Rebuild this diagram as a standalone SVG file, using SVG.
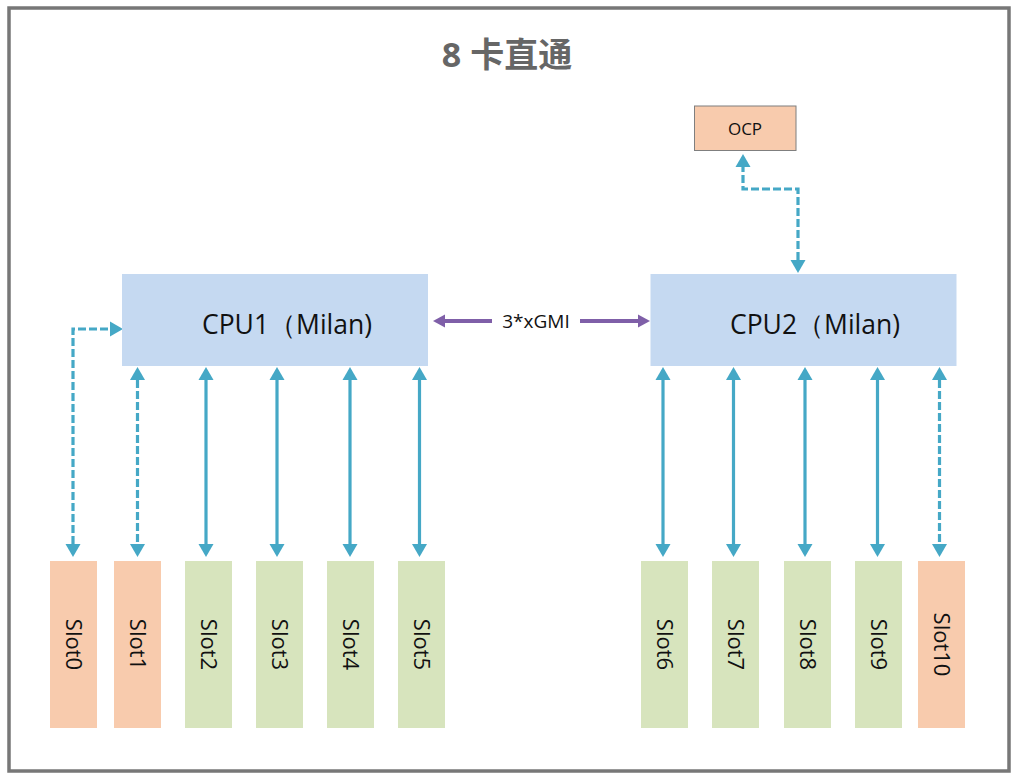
<svg xmlns="http://www.w3.org/2000/svg" width="1014" height="773" viewBox="0 0 1014 773">
<defs>
<style>
.frame{fill:#fff;stroke:#777;stroke-width:3.5}
.cpu{fill:#C5D9F1}
.peach{fill:#F8CBAD}
.green{fill:#D7E4BD}
.ocp{fill:#F8CBAD;stroke:#7f7f7f;stroke-width:1}
.t{font-family:"Open Sans","Noto Sans","Liberation Sans",sans-serif;fill:#111}
.cput{font-size:26.5px}
.slott{font-size:22px}
.title{font-family:"Open Sans","Noto Sans CJK SC",sans-serif;font-weight:bold;font-size:34px;fill:#666}
.link{fill:none;stroke:#45A8C6;stroke-width:3.2;marker-start:url(#ah);marker-end:url(#ah)}
.dash{stroke-dasharray:8 3}
.gmi{fill:none;stroke:#7F5FA8;stroke-width:3.8;marker-start:url(#ap);marker-end:url(#ap)}
</style>
<marker id="ah" markerUnits="userSpaceOnUse" markerWidth="14" markerHeight="16" refX="0" refY="7.5" orient="auto-start-reverse" overflow="visible">
<path d="M0,0 L13,7.5 L0,15 z" fill="#45A8C6"/>
</marker>
<marker id="ap" markerUnits="userSpaceOnUse" markerWidth="13" markerHeight="14" refX="0" refY="6.5" orient="auto-start-reverse" overflow="visible">
<path d="M0,0 L12,6.5 L0,13 z" fill="#7F5FA8"/>
</marker>
</defs>
<rect class="frame" x="9" y="8" width="1000" height="763"/>
<text class="title" x="507" y="67" text-anchor="middle">8 卡直通</text>

<g id="connectors">
<path class="link dash" d="M73,544 V329 H110"/>
<path class="link dash" d="M137.5,380 V544"/>
<path class="link" d="M206,380 V544"/>
<path class="link" d="M277,380 V544"/>
<path class="link" d="M350,380 V544"/>
<path class="link" d="M419.5,380 V544"/>
<path class="link" d="M663,380 V544"/>
<path class="link" d="M733.5,380 V544"/>
<path class="link" d="M805,380 V544"/>
<path class="link" d="M877.5,380 V544"/>
<path class="link dash" d="M939.5,380 V544"/>
<path class="link dash" d="M798,260 V189 H743 V167"/>
<path class="gmi" d="M445,321 H638"/>
<rect x="492" y="308" width="88" height="26" fill="#fff"/>
<text class="t" x="536" y="328" text-anchor="middle" font-size="19" fill="#404040">3*xGMI</text>
</g>

<g id="ocp">
<rect class="ocp" x="694.5" y="106" width="101.5" height="44.5"/>
<text class="t" x="745" y="135" text-anchor="middle" font-size="17">OCP</text>
</g>

<g id="cpu1">
<rect class="cpu" x="122" y="274" width="306" height="92"/>
<text class="t cput" x="287" y="334" text-anchor="middle">CPU1（Milan)</text>
</g>
<g id="cpu2">
<rect class="cpu" x="650.5" y="274" width="306" height="92"/>
<text class="t cput" x="815" y="334" text-anchor="middle">CPU2（Milan)</text>
</g>

<g id="slot0"><rect class="peach" x="50" y="561" width="47" height="167"/><text class="t slott" transform="translate(66,644.5) rotate(90)" text-anchor="middle">Slot0</text></g>
<g id="slot1"><rect class="peach" x="114" y="561" width="47" height="167"/><text class="t slott" transform="translate(130,644.5) rotate(90)" text-anchor="middle">Slot1</text></g>
<g id="slot2"><rect class="green" x="185" y="561" width="47" height="167"/><text class="t slott" transform="translate(201,644.5) rotate(90)" text-anchor="middle">Slot2</text></g>
<g id="slot3"><rect class="green" x="256" y="561" width="47" height="167"/><text class="t slott" transform="translate(272,644.5) rotate(90)" text-anchor="middle">Slot3</text></g>
<g id="slot4"><rect class="green" x="327" y="561" width="47" height="167"/><text class="t slott" transform="translate(343,644.5) rotate(90)" text-anchor="middle">Slot4</text></g>
<g id="slot5"><rect class="green" x="398" y="561" width="47" height="167"/><text class="t slott" transform="translate(414,644.5) rotate(90)" text-anchor="middle">Slot5</text></g>
<g id="slot6"><rect class="green" x="641" y="561" width="47" height="167"/><text class="t slott" transform="translate(657,644.5) rotate(90)" text-anchor="middle">Slot6</text></g>
<g id="slot7"><rect class="green" x="712" y="561" width="47" height="167"/><text class="t slott" transform="translate(728,644.5) rotate(90)" text-anchor="middle">Slot7</text></g>
<g id="slot8"><rect class="green" x="784" y="561" width="47" height="167"/><text class="t slott" transform="translate(800,644.5) rotate(90)" text-anchor="middle">Slot8</text></g>
<g id="slot9"><rect class="green" x="855" y="561" width="47" height="167"/><text class="t slott" transform="translate(871,644.5) rotate(90)" text-anchor="middle">Slot9</text></g>
<g id="slot10"><rect class="peach" x="918" y="561" width="47" height="167"/><text class="t slott" transform="translate(934,644.5) rotate(90)" text-anchor="middle">Slot10</text></g>
</svg>
